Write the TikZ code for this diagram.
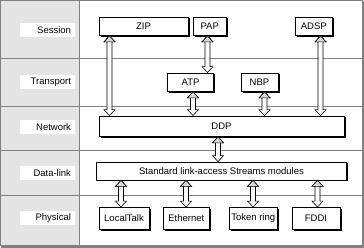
\documentclass[tikz,border=0pt]{standalone}
\usepackage{fontspec}
\setmainfont{Liberation Sans}
\usepackage{xcolor}
\usepackage{tikz}
\usetikzlibrary{calc,shadows}

\definecolor{colbg}{RGB}{228,228,228}
\definecolor{rule}{RGB}{128,128,128}

% two-headed block arrow at x=#1 (pt) from the bottom of #2 to the top of #3
\newcommand{\twoway}[3]{%
  \filldraw[twoway] let \p1=(#2.south), \p2=(#3.north) in
    (#1pt,\y1) -- (#1pt+5.5pt,\y1-6pt) -- (#1pt+2.5pt,\y1-6pt) -- (#1pt+2.5pt,\y2+6pt)
    -- (#1pt+5.5pt,\y2+6pt) -- (#1pt,\y2) -- (#1pt-5.5pt,\y2+6pt) -- (#1pt-2.5pt,\y2+6pt)
    -- (#1pt-2.5pt,\y1-6pt) -- (#1pt-5.5pt,\y1-6pt) -- cycle;
  \filldraw[twowayhead] let \p1=(#2.south) in
    (#1pt,\y1) -- (#1pt+5.5pt,\y1-6pt) -- (#1pt-5.5pt,\y1-6pt) -- cycle;
}

\begin{document}
\begin{tikzpicture}[
    x=1pt, y=1pt,
    every node/.style={font=\fontsize{9.5}{11}\selectfont},
    box/.style={draw, fill=white, line width=0.8pt, inner sep=0pt,
      drop shadow={shadow xshift=1.5pt, shadow yshift=-1.5pt, fill=black, opacity=1}},
    layer/.style={fill=white, inner ysep=0pt, minimum height=14pt,
      text width=47pt, align=right, inner xsep=4pt},
    divider/.style={draw=rule, line width=0.8pt},
    twoway/.style={draw=black, fill=white, line width=0.6pt, line join=miter},
    twowayhead/.style={draw=black, fill=gray!30, line width=0.6pt}
]
  \useasboundingbox (0,0) rectangle (364,-248);

  % layer column and rules
  \fill[colbg] (0,0) rectangle (79,-246);
  \foreach \y in {58,106.7,150.7,195.3}{
    \draw[divider] (0,-\y) -- (362,-\y);
  }
  \draw[divider] (79,0) -- (79,-246);
  \draw[rule, line width=1pt] (0.5,-0.5) rectangle (362.5,-245);
  \draw[rule, line width=2pt] (363,-1) -- (363,-247) -- (1,-247);

  % layer names
  \node[layer] (session)   at (47.5,-30)    {Session};
  \node[layer] (transport) at (47.5,-82)    {Transport};
  \node[layer] (network)   at (47.5,-127.5) {Network};
  \node[layer] (datalink)  at (47.5,-173.3) {Data-link};
  \node[layer] (physical)  at (47.5,-218)   {Physical};

  % protocols
  \node[box, minimum width=89pt,  minimum height=18.5pt] (zip)  at (143.5,-26.25)  {ZIP};
  \node[box, minimum width=33.5pt,minimum height=18.5pt] (pap)  at (209.75,-26.25) {PAP};
  \node[box, minimum width=36.5pt,minimum height=18.5pt] (adsp) at (313.75,-26.25) {ADSP};

  \node[box, minimum width=46pt, minimum height=18.5pt] (atp) at (190.5,-82.25) {ATP};
  \node[box, minimum width=37pt, minimum height=18.5pt] (nbp) at (259.5,-82.25) {NBP};

  \node[box, minimum width=245pt, minimum height=20.5pt] (ddp) at (221.5,-126.25) {DDP};

  \node[box, minimum width=250pt, minimum height=18pt] (std) at (221.5,-171)
    {Standard link-access Streams modules};

  \node[box, minimum width=50pt,   minimum height=21.5pt] (lt)   at (124,-218.25)    {LocalTalk};
  \node[box, minimum width=45.5pt, minimum height=21.5pt] (eth)  at (186.25,-218.25) {Ethernet};
  \node[box, minimum width=48.5pt, minimum height=21.5pt] (tr)   at (253.25,-218.25) {Token ring};
  \node[box, minimum width=48pt,   minimum height=21.5pt] (fddi) at (316,-218.25)    {FDDI};

  % links between layers
  \twoway{109.5}{zip}{ddp}
  \twoway{207.5}{pap}{atp}
  \twoway{320.5}{adsp}{ddp}
  \twoway{193}{atp}{ddp}
  \twoway{264.5}{nbp}{ddp}
  \twoway{218}{ddp}{std}
  \twoway{121}{std}{lt}
  \twoway{186}{std}{eth}
  \twoway{253}{std}{tr}
  \twoway{317.5}{std}{fddi}
\end{tikzpicture}
\end{document}
